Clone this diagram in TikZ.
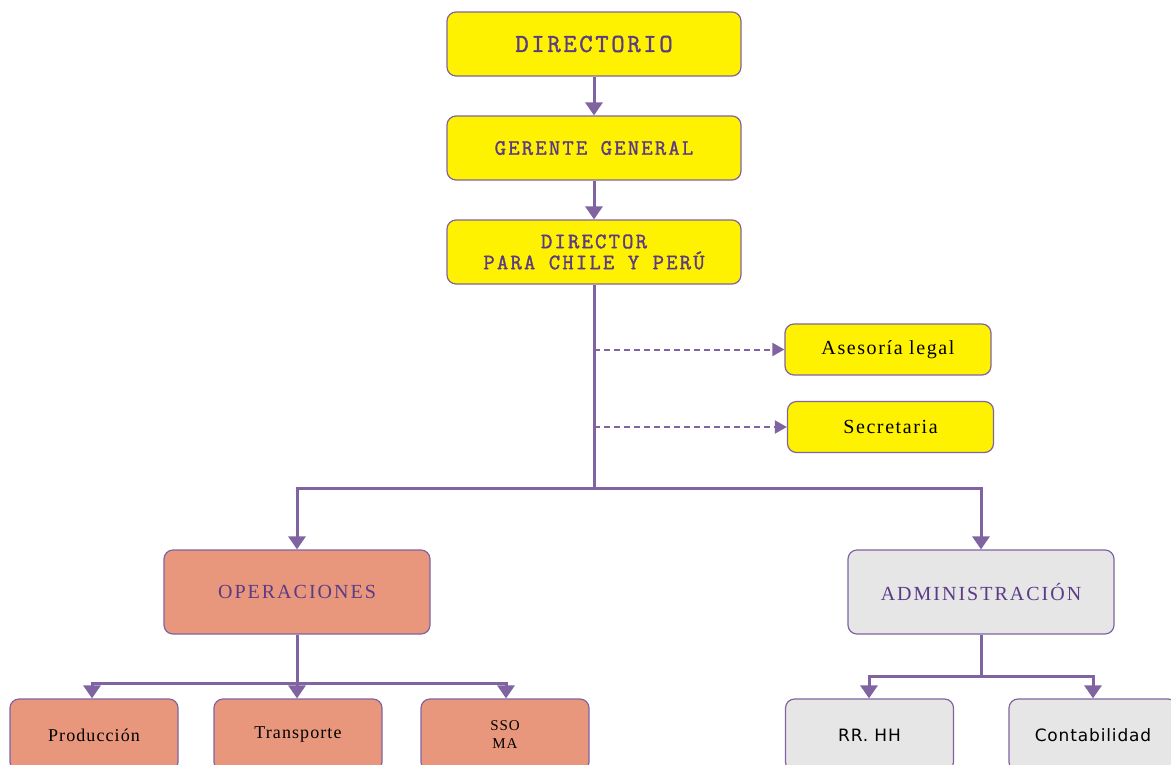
\documentclass[tikz,border=0pt]{standalone}
\usepackage{fontspec}
\setmainfont{Liberation Serif}
\newfontfamily\monob[FakeBold=1.5,LetterSpace=10]{Latin Modern Mono}
\newfontfamily\serifsp[LetterSpace=8]{Liberation Serif}
\newfontfamily\serifcap[LetterSpace=10]{Liberation Serif}
\newfontfamily\serifsm[LetterSpace=6]{Liberation Serif}
\newfontfamily\sansv[LetterSpace=5]{DejaVu Sans}
\usetikzlibrary{arrows.meta}
\definecolor{lineP}{HTML}{8064A2}
\definecolor{txtP}{HTML}{5B3B86}
\definecolor{salmon}{HTML}{E9977C}
\definecolor{lgray}{HTML}{E6E6E6}
\begin{document}
\begin{tikzpicture}[x=1pt,y=-1pt,
  box/.style={draw=lineP, line width=1.2pt, rounded corners=9pt, inner sep=0pt, align=center},
  ybox/.style={box, fill=yellow, minimum width=294pt, minimum height=64pt, text=txtP, font=\monob\fontsize{22}{21}\selectfont},
  sbox/.style={box, fill=yellow, minimum width=206pt, minimum height=51pt, font=\serifsp\fontsize{20}{22}\selectfont},
  obox/.style={box, fill=salmon, minimum width=266pt, minimum height=84pt, text=txtP, font=\serifcap\fontsize{20}{22}\selectfont},
  abox/.style={box, fill=lgray, minimum width=266pt, minimum height=84pt, text=txtP, font=\serifcap\fontsize{20}{22}\selectfont},
  pbox/.style={box, fill=salmon, minimum width=168pt, minimum height=72pt, font=\serifsm\fontsize{18}{20}\selectfont},
  gbox/.style={box, fill=lgray, minimum width=168pt, minimum height=72pt, font=\sansv\fontsize{17}{20}\selectfont},
  conn/.style={draw=lineP, line width=3pt},
  arr/.style={conn, -{Triangle[length=13pt,width=17pt]}},
  darr/.style={draw=lineP, line width=2pt, dash pattern=on 6pt off 4pt, -{Triangle[length=12pt,width=13pt]}}
]
\clip (0,0) rectangle (1171,764);
\fill[white] (0,0) rectangle (1171,764);

\node[ybox, font=\monob\fontsize{26}{28}\selectfont] (dir) at (594,44) {DIRECTORIO};
\node[ybox] (ger) at (594,148) {GERENTE GENERAL};
\node[ybox] (dch) at (594,252) {DIRECTOR\\PARA CHILE Y PERÚ};

\node[sbox] (ase) at (888,349.5) {Asesoría legal};
\node[sbox] (sec) at (890.5,427) {Secretaria};

\node[obox] (ope) at (297,592) {OPERACIONES};
\node[abox] (adm) at (981,592) {ADMINISTRACIÓN};

\node[pbox] (pro) at (94,735) {Producción};
\node[pbox] (tra) at (298,735) {Transporte};
\node[pbox, font=\serifsm\fontsize{15}{18}\selectfont] (sso) at (505,735) {SSO\\MA};
\node[gbox] (rrh) at (869.5,735) {RR. HH};
\node[gbox] (con) at (1093,735) {Contabilidad};

\coordinate (j1) at (594,488);
\coordinate (da) at (594,349.5);
\coordinate (ds) at (594,427);
\coordinate (j2) at (297,683);
\coordinate (j3) at (981,676);

\draw[arr] (dir) -- (ger);
\draw[arr] (ger) -- (dch);
\draw[conn] (dch) -- (j1);
\draw[darr] (da) -- (ase);
\draw[darr] (ds) -- (sec.west |- ds);
\draw[arr] (j1) -| (ope);
\draw[arr] (j1) -| (adm);

\draw[conn] (ope) -- (j2);
\draw[arr] (j2) -| (pro.north -| 92,0);
\draw[arr] (j2) -- (tra.north -| j2);
\draw[arr] (j2) -| (sso.north -| 506,0);

\draw[conn] (adm) -- (j3);
\draw[arr] (j3) -| (rrh.north -| 869,0);
\draw[arr] (j3) -| (con.north -| 1093,0);
\end{tikzpicture}
\end{document}
